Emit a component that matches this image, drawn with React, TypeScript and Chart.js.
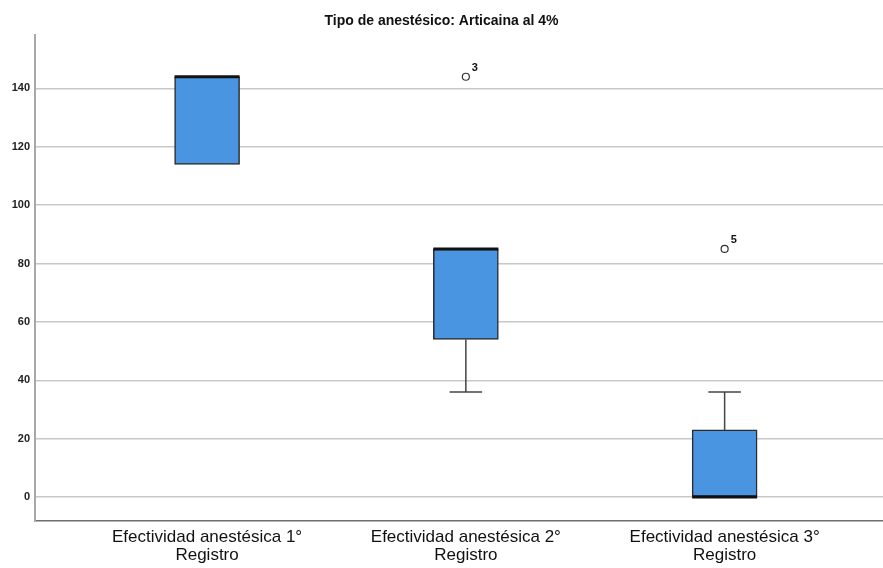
import React, { useEffect, useRef } from 'react';
import { Chart, registerables } from 'chart.js';

Chart.register(...registerables);

const chartTitle = 'Tipo de anestésico: Articaina al 4%';
const categories: string[][] = [
  ['Efectividad anestésica 1°', 'Registro'],
  ['Efectividad anestésica 2°', 'Registro'],
  ['Efectividad anestésica 3°', 'Registro'],
];
const q1Values = [114, 54, 0];
const medianValues = [144, 85, 0];
const q3Values = [144, 85, 23];
const whiskerLowValues = [114, 36, 0];
const whiskerHighValues = [144, 85, 36];
const outlierCategory = [1, 2];
const outlierValues = [144, 85];
const outlierLabels = ['3', '5'];
const yTickValues = [0, 20, 40, 60, 80, 100, 120, 140];

const FONT = '"Liberation Sans", Arial, sans-serif';

const boxExtras = {
  id: 'boxExtras',
  afterDatasetsDraw(chart: any) {
    const { ctx } = chart;
    const x = chart.scales.x;
    const y = chart.scales.y;
    const meta = chart.getDatasetMeta(0);
    ctx.save();
    categories.forEach((_, i) => {
      const bar = meta.data[i];
      const w = bar.width;
      const cx = x.getPixelForValue(i);
      const yq1 = y.getPixelForValue(q1Values[i]);
      const yq3 = y.getPixelForValue(q3Values[i]);
      ctx.strokeStyle = '#444';
      ctx.lineWidth = 1.5;
      if (whiskerLowValues[i] < q1Values[i]) {
        const yl = y.getPixelForValue(whiskerLowValues[i]);
        ctx.beginPath();
        ctx.moveTo(cx, yq1);
        ctx.lineTo(cx, yl);
        ctx.moveTo(cx - w / 4, yl);
        ctx.lineTo(cx + w / 4, yl);
        ctx.stroke();
      }
      if (whiskerHighValues[i] > q3Values[i]) {
        const yh = y.getPixelForValue(whiskerHighValues[i]);
        ctx.beginPath();
        ctx.moveTo(cx, yq3);
        ctx.lineTo(cx, yh);
        ctx.moveTo(cx - w / 4, yh);
        ctx.lineTo(cx + w / 4, yh);
        ctx.stroke();
      }
      const ym = y.getPixelForValue(medianValues[i]);
      ctx.strokeStyle = '#111';
      ctx.lineWidth = 3;
      ctx.beginPath();
      ctx.moveTo(cx - w / 2, ym);
      ctx.lineTo(cx + w / 2, ym);
      ctx.stroke();
    });
    ctx.fillStyle = '#111';
    ctx.font = 'bold 11px ' + FONT;
    ctx.textAlign = 'left';
    ctx.textBaseline = 'middle';
    outlierCategory.forEach((c, i) => {
      const px = x.getPixelForValue(c);
      const py = y.getPixelForValue(outlierValues[i]);
      ctx.fillText(outlierLabels[i], px + 6, py - 9);
    });
    ctx.restore();
  },
};

export default function App() {
  const ref = useRef<HTMLCanvasElement>(null);
  useEffect(() => {
    if (!ref.current) return;
    const chart = new Chart(ref.current, {
      type: 'bar',
      data: {
        datasets: [
          {
            type: 'bar',
            data: categories.map((_, i) => ({ x: i, y: [q1Values[i], q3Values[i]] })) as any,
            backgroundColor: '#4a95e2',
            borderColor: '#2b2b2b',
            borderWidth: 1.5,
            borderSkipped: false,
            barThickness: 65,
          } as any,
          {
            type: 'scatter',
            data: outlierCategory.map((c, i) => ({ x: c, y: outlierValues[i] })),
            pointRadius: 3.5,
            pointBackgroundColor: '#ffffff',
            pointBorderColor: '#333',
            pointBorderWidth: 1.2,
            clip: false,
          } as any,
        ],
      },
      options: {
        responsive: false,
        animation: false,
        layout: { autoPadding: false, padding: 0 },
        plugins: {
          legend: { display: false },
          tooltip: { enabled: false },
          title: {
            display: true,
            text: chartTitle,
            color: '#111',
            font: { family: FONT, size: 14, weight: 'bold', lineHeight: 1.2 },
            padding: { top: 13.2, bottom: 5 },
          },
        },
        scales: {
          x: {
            type: 'linear',
            min: -0.665,
            max: 2.612,
            offset: false,
            grid: { display: false, drawTicks: false, offset: false },
            border: { color: '#6e6e6e', width: 1.5 },
            afterBuildTicks: (s: any) => {
              s.ticks = categories.map((_, i) => ({ value: i }));
            },
            afterFit: (s: any) => {
              s.height = 47;
            },
            ticks: {
              callback: (v: any) => categories[v] ?? '',
              font: { family: FONT, size: 17, lineHeight: 1.06 },
              color: '#111',
              padding: 7,
              maxRotation: 0,
              autoSkip: false,
            },
          },
          y: {
            type: 'linear',
            min: -8.2,
            max: 158.3,
            afterBuildTicks: (s: any) => {
              s.ticks = yTickValues.map((v) => ({ value: v }));
            },
            afterFit: (s: any) => {
              s.width = 35;
            },
            grid: { color: '#c8c8c8', lineWidth: 1.5, drawTicks: false },
            border: { color: '#a8a8a8', width: 2 },
            ticks: {
              font: { family: FONT, size: 11, weight: 'bold' },
              color: '#222',
              padding: 5,
            },
          },
        },
      } as any,
      plugins: [boxExtras],
    });
    return () => chart.destroy();
  }, []);
  return (
    <div style={{ position: 'fixed', left: 0, top: 0, width: 883, height: 568, background: '#fff' }}>
      <canvas ref={ref} width={883} height={568} />
    </div>
  );
}
